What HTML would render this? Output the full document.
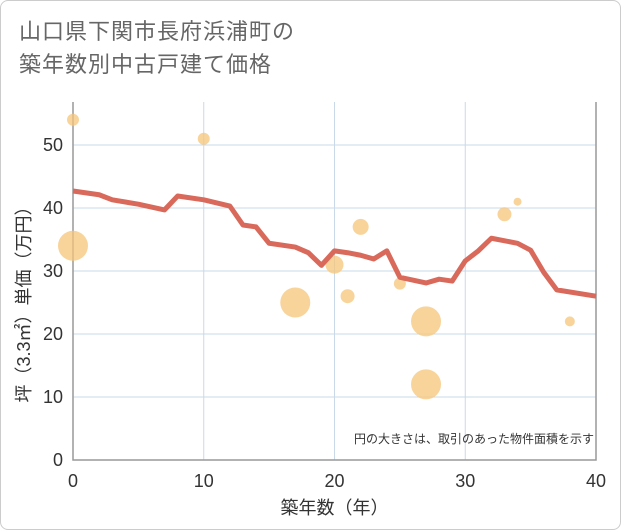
<!DOCTYPE html>
<html><head><meta charset="utf-8"><style>
body{margin:0;background:#fff;font-family:"Liberation Sans","Noto Sans CJK JP",sans-serif;}
.frame{position:relative;width:619px;height:528px;border:1px solid #ccc;border-radius:8px;overflow:hidden;background:#fff}
.title{position:absolute;left:18px;top:14px;font-size:22px;line-height:33px;color:#666;letter-spacing:1px}
</style></head><body>
<div class="frame">
<div class="title">山口県下関市長府浜浦町の<br>築年数別中古戸建て価格</div>
<svg id="chart" width="621" height="530" style="position:absolute;left:-1px;top:-1px"></svg>
</div>
<script>
const lineYears=[0,2,3,5,7,8,10,12,13,14,15,17,18,19,20,21,22,23,24,25,27,28,29,30,31,32,34,35,36,37,40];
const lineValues=[42.7,42.1,41.3,40.6,39.7,41.9,41.3,40.3,37.3,37.0,34.4,33.8,32.9,30.9,33.2,32.9,32.5,31.9,33.2,29.0,28.1,28.7,28.4,31.6,33.2,35.2,34.4,33.3,29.8,27.0,26.0];
const bubbleYears=[0,10,0,17,20,21,22,25,27,27,33,34,38];
const bubbleValues=[54,51,34,25,31,26,37,28,22,12,39,41,22];
const bubbleSizes=[6,6,15,15,9,7,8,6,15,15,7,4,5];
const xTicks=[0,10,20,30,40];
const yTicks=[0,10,20,30,40,50];
const NS="http://www.w3.org/2000/svg";
const svg=document.getElementById('chart');
const X0=73,X1=596,Y0=460,YT=102;
const sx=v=>X0+(X1-X0)*v/40;
const sy=v=>Y0-6.3*v;
function mk(t,a){const e=document.createElementNS(NS,t);for(const k in a)e.setAttribute(k,a[k]);svg.appendChild(e);return e;}
xTicks.forEach(t=>{
 const g=mk('line',{x1:sx(t),x2:sx(t),y1:YT,y2:Y0,stroke:'#c9d9e8','stroke-width':1});
 
 
 const l=mk('text',{x:sx(t),y:Y0+27,'text-anchor':'middle','font-size':18,fill:'#333'});
 l.textContent=t;
 
 
});
yTicks.forEach(t=>{
 const g=mk('line',{x1:X0,x2:X1,y1:sy(t),y2:sy(t),stroke:'#c9d9e8','stroke-width':1});
 
 
 const l=mk('text',{x:X0-10,y:sy(t)+6,'text-anchor':'end','font-size':18,fill:'#333'});
 l.textContent=t;
 
 
});
const ax=mk('path',{d:`M${X0} ${YT}V${Y0}H${X1}V${YT}`,fill:'none',stroke:'#999','stroke-width':1.5});


bubbleYears.forEach((y,i)=>{
 const c=mk('circle',{cx:sx(y),cy:sy(bubbleValues[i]),r:bubbleSizes[i],fill:'#f5c57a','fill-opacity':0.75});
 
 
});
const p=mk('polyline',{points:lineYears.map((y,i)=>sx(y)+','+sy(lineValues[i])).join(' '),fill:'none',stroke:'#d9695a','stroke-width':5,'stroke-linejoin':'round'});


const note=mk('text',{x:594,y:443,'text-anchor':'end','font-size':12,fill:'#333'});
note.textContent='円の大きさは、取引のあった物件面積を示す';


const xt=mk('text',{x:(X0+X1)/2,y:514,'text-anchor':'middle','font-size':18,fill:'#333'});
xt.textContent='築年数（年）';


const yt=mk('text',{x:0,y:0,'text-anchor':'middle','font-size':18,fill:'#333',transform:'translate(30,300) rotate(-90)'});
yt.textContent='坪（3.3㎡）単価（万円）';


</script>
</body></html>
